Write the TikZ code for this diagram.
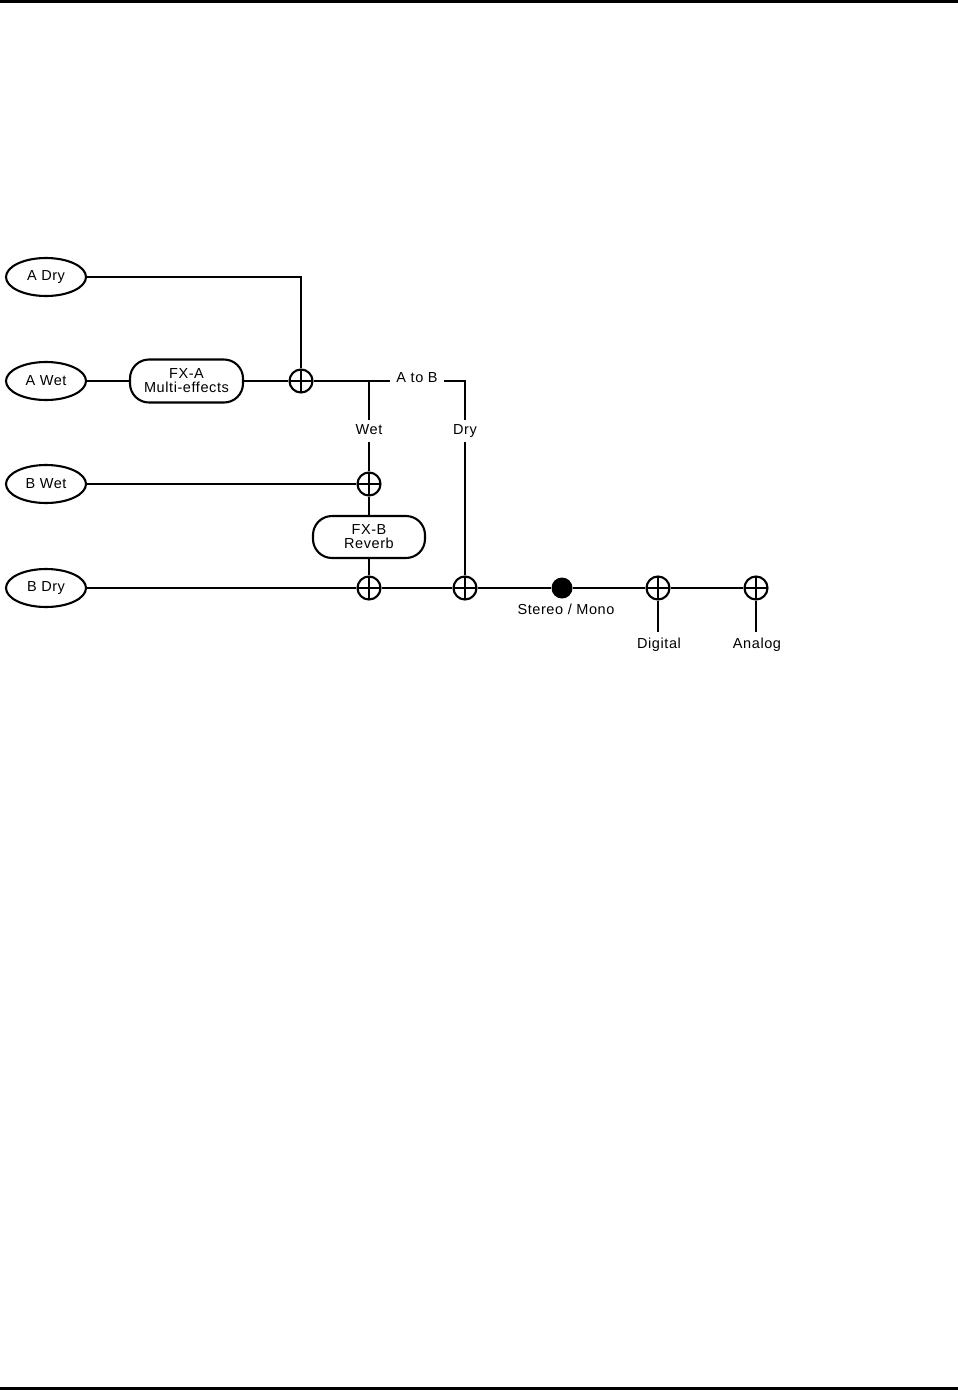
\documentclass[tikz,border=0pt]{standalone}
\usepackage{fontspec}
\setmainfont{Liberation Sans}[LetterSpace=4]
\usetikzlibrary{shapes.geometric}
\begin{document}
\begin{tikzpicture}[x=1pt,y=-1pt,
  lw/.style={line width=2.1pt},
  every node/.style={font=\fontsize{14.5}{15}\selectfont},
  src/.style={ellipse,draw,lw,minimum width=80pt,minimum height=38pt,inner sep=0pt},
  fxbox/.style={rectangle,draw,lw,rounded corners=19pt,minimum width=113pt,minimum height=43pt,align=center,inner sep=0pt,font=\fontsize{14.5}{14}\selectfont},
  sumnode/.style={circle,draw,lw,minimum size=23pt,inner sep=0pt,
    path picture={\draw[lw] (path picture bounding box.north) -- (path picture bounding box.south)
      (path picture bounding box.west) -- (path picture bounding box.east);}},
  dotnode/.style={circle,fill=black,minimum size=21pt,inner sep=0pt},
  lbl/.style={inner sep=4pt,text height=10.5pt,text depth=3pt},
  wire/.style={lw}]
\useasboundingbox (0,0) rectangle (958,1390);
\fill (0,0) rectangle (958,3);
\fill (0,1387) rectangle (958,1390);

\node[src] (adry) at (46,277) {A Dry};
\node[src] (awet) at (46,381) {A Wet};
\node[src] (bwet) at (46,484) {B Wet};
\node[src] (bdry) at (46,588) {B Dry};

\node[fxbox] (fxa) at (186.5,381) {FX-A\\Multi-effects};
\node[fxbox,minimum width=112pt,minimum height=42pt] (fxb) at (369,537) {FX-B\\Reverb};

\node[sumnode] (sa) at (301,381) {};
\node[sumnode] (sbw) at (369,484) {};
\node[sumnode] (sbd) at (369,588) {};
\node[sumnode] (sdry) at (465,588) {};
\node[dotnode] (sm) at (562,588) {};
\node[sumnode] (sdig) at (658,588) {};
\node[sumnode] (sana) at (756,588) {};

\coordinate (jw) at (369,381);
\node[inner sep=6pt] (atob) at (417,378) {A to B};
\node[lbl] (wet) at (369,431) {Wet};
\node[lbl] (dry) at (465,431) {Dry};
\node (stm) at (566,609) {Stereo / Mono};
\node[inner sep=6pt] (dig) at (659,645) {Digital};
\node[inner sep=6pt] (ana) at (757,645) {Analog};

\draw[wire] (adry.east) -| (sa.north);
\draw[wire] (awet) -- (fxa);
\draw[wire] (fxa) -- (sa);
\draw[wire] (sa.east) -- (atob.west |- sa);
\draw[wire] (atob.east |- sa) -| (dry.north);
\draw[wire] (jw) -- (wet.north);
\draw[wire] (wet.south) -- (sbw.north);
\draw[wire] (dry.south) -- (sdry.north);
\draw[wire] (bwet) -- (sbw);
\draw[wire] (sbw) -- (fxb);
\draw[wire] (fxb) -- (sbd);
\draw[wire] (bdry) -- (sbd) -- (sdry) -- (sm) -- (sdig) -- (sana);
\draw[wire] (sdig.south) -- (sdig.south |- dig.north);
\draw[wire] (sana.south) -- (sana.south |- ana.north);
\end{tikzpicture}
\end{document}
